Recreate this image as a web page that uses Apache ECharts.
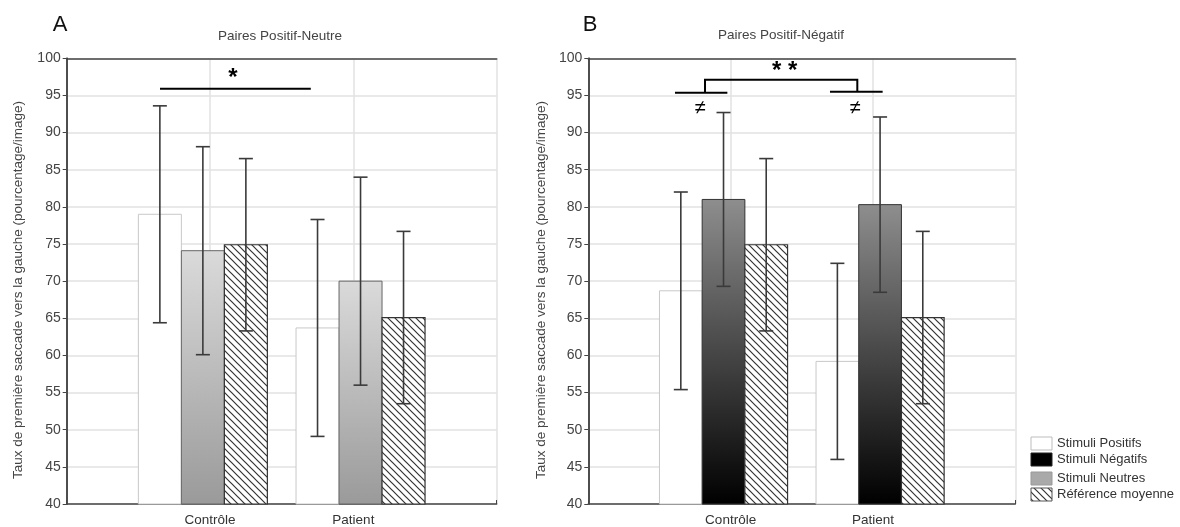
<!DOCTYPE html>
<html><head><meta charset="utf-8">
<script src="https://cdn.jsdelivr.net/npm/echarts@6/dist/echarts.min.js"></script>
<style>html,body{margin:0;padding:0;background:#fff}#c{width:1180px;height:527px}</style>
</head><body><div id="c"></div>
<script>
// ---------- data ----------
const categories = ['Contrôle', 'Patient'];
const yMin = 40, yMax = 100, yStep = 5;

// Panel A : Paires Positif-Neutre
const posA = [79.0, 63.7];      const posAErr = [14.6, 14.6];
const neuA = [74.1, 70.0];      const neuAErr = [14.0, 14.0];
const refA = [74.9, 65.1];      const refAErr = [11.6, 11.6];

// Panel B : Paires Positif-Négatif
const posB = [68.7, 59.2];      const posBErr = [13.3, 13.2];
const negB = [81.0, 80.3];      const negBErr = [11.7, 11.8];
const refB = [74.9, 65.1];      const refBErr = [11.6, 11.6];

// significance annotations (data coordinates)
const sigLinesA = [[[0.651, 95.9], [1.703, 95.9]]];
const sigTextsA = [[1.16, 97.3, '*']];
const sigLinesB = [
  [[0.609, 95.35], [0.977, 95.35]],
  [[1.698, 95.5], [2.068, 95.5]],
  [[0.82, 95.4], [0.82, 97.1], [1.89, 97.1], [1.89, 95.5]]
];
const sigTextsB = [[1.38, 98.2, '* *'], [0.784, 93.2, '≠'], [1.873, 93.2, '≠']];

const legendNames = ['Stimuli Positifs', 'Stimuli Négatifs', 'Stimuli Neutres', 'Référence moyenne'];
const yName = 'Taux de première saccade vers la gauche (pourcentage/image)';

// ---------- styles ----------
const FONT = '"Liberation Sans", Arial, sans-serif';
const BAR_W = 0.3;
const GROUP_START = [-0.5, -0.4]; // left edge of first bar relative to category, per category

function hatchCanvas() {
  const s = 7, cv = document.createElement('canvas');
  cv.width = s; cv.height = s;
  const g = cv.getContext('2d');
  g.fillStyle = '#fff'; g.fillRect(0, 0, s, s);
  g.strokeStyle = '#333'; g.lineWidth = 1.2;
  g.beginPath();
  g.moveTo(-1, -1); g.lineTo(s + 1, s + 1);
  g.moveTo(-1, s - 1); g.lineTo(1, s + 1);
  g.moveTo(s - 1, -1); g.lineTo(s + 1, 1);
  g.stroke();
  return cv;
}
const hatch = { image: hatchCanvas(), repeat: 'repeat' };
const grayGrad = () => new echarts.graphic.LinearGradient(0, 0, 0, 1, [{offset: 0, color: '#dadada'}, {offset: 1, color: '#9a9a9a'}]);
const blackGrad = () => new echarts.graphic.LinearGradient(0, 0, 0, 1, [{offset: 0, color: '#8e8e8e'}, {offset: 1, color: '#000'}]);

const styles = {
  pos: () => ({fill: '#fff', stroke: '#c8c8c8', lineWidth: 1}),
  neu: () => ({fill: grayGrad(), stroke: '#666', lineWidth: 1}),
  neg: () => ({fill: blackGrad(), stroke: '#333', lineWidth: 1}),
  ref: () => ({fill: hatch, stroke: '#333', lineWidth: 1.2})
};

function barSeries(panel, slot, means, styleFn) {
  return {
    type: 'custom', xAxisIndex: panel * 2, yAxisIndex: panel * 2, z: 2,
    data: means.map((m, i) => [i + 1, m]),
    renderItem: (params, api) => {
      const c = api.value(0), v = api.value(1);
      const x0 = c + GROUP_START[c - 1] + slot * BAR_W;
      const p0 = api.coord([x0, v]);
      const p1 = api.coord([x0 + BAR_W, yMin]);
      return {type: 'rect', shape: {x: p0[0], y: p0[1], width: p1[0] - p0[0], height: p1[1] - p0[1]}, style: styleFn()};
    }
  };
}
function errSeries(panel, slot, means, errs) {
  return {
    type: 'custom', xAxisIndex: panel * 2, yAxisIndex: panel * 2, z: 3,
    data: means.map((m, i) => [i + 1, m, errs[i]]),
    renderItem: (params, api) => {
      const c = api.value(0), v = api.value(1), e = api.value(2);
      const xc = c + GROUP_START[c - 1] + (slot + 0.5) * BAR_W;
      const hi = api.coord([xc, v + e]), lo = api.coord([xc, v - e]);
      const cap = 7, st = {stroke: '#3a3a3a', lineWidth: 1.6};
      return {type: 'group', children: [
        {type: 'line', shape: {x1: hi[0], y1: hi[1], x2: lo[0], y2: lo[1]}, style: st},
        {type: 'line', shape: {x1: hi[0] - cap, y1: hi[1], x2: hi[0] + cap, y2: hi[1]}, style: st},
        {type: 'line', shape: {x1: lo[0] - cap, y1: lo[1], x2: lo[0] + cap, y2: lo[1]}, style: st}
      ]};
    }
  };
}
function sigSeries(panel, lines, texts) {
  const items = lines.map(l => ({kind: 'l', d: l})).concat(texts.map(t => ({kind: 't', d: t})));
  return {
    type: 'custom', xAxisIndex: panel * 2, yAxisIndex: panel * 2, z: 4, clip: false,
    data: items.map(it => it.kind === 'l' ? it.d[0] : [it.d[0], it.d[1]]),
    renderItem: (params, api) => {
      const it = items[params.dataIndex];
      if (it.kind === 'l') {
        return {type: 'polyline', shape: {points: it.d.map(p => api.coord(p))}, style: {stroke: '#000', lineWidth: 2, fill: null}};
      }
      const p = api.coord([it.d[0], it.d[1]]);
      const isNe = it.d[2] === '≠';
      return {type: 'text', x: p[0], y: p[1], style: {
        text: it.d[2], fill: '#000', align: 'center', verticalAlign: 'middle',
        font: (isNe ? '20px ' : 'bold 24px ') + FONT
      }};
    }
  };
}

function axesFor(panel) {
  const xs = [{
    type: 'value', gridIndex: panel, min: 0, max: 3, interval: 1, position: 'bottom',
    axisLine: {show: true, lineStyle: {color: '#444', width: 1.5}},
    axisTick: {show: true, inside: true, length: 4, lineStyle: {color: '#444'}},
    axisLabel: {formatter: v => categories[v - 1] || '', color: '#333', fontSize: 13.5, fontFamily: FONT, margin: 9},
    splitLine: {show: true, lineStyle: {color: '#e2e2e2', width: 1.5}}
  }, {
    type: 'value', gridIndex: panel, min: 0, max: 3, interval: 1, position: 'top',
    axisLine: {show: true, lineStyle: {color: '#444', width: 1.5}},
    axisTick: {show: false}, axisLabel: {show: false}, splitLine: {show: false}
  }];
  const ys = [{
    type: 'value', gridIndex: panel, min: yMin, max: yMax, interval: yStep, position: 'left',
    axisLine: {show: true, lineStyle: {color: '#444', width: 1.5}},
    axisTick: {show: true, inside: false, length: 3, lineStyle: {color: '#666'}},
    axisLabel: {color: '#444', fontSize: 14, fontFamily: FONT, margin: 6},
    splitLine: {show: true, lineStyle: {color: '#e2e2e2', width: 1.5}}
  }, {
    type: 'value', gridIndex: panel, min: yMin, max: yMax, interval: yStep, position: 'right',
    axisLine: {show: true, lineStyle: {color: '#444', width: 1.5}},
    axisTick: {show: true, inside: true, length: 4, lineStyle: {color: '#444'}},
    axisLabel: {show: false}, splitLine: {show: false}
  }];
  return {xs, ys};
}
const aA = axesFor(0), aB = axesFor(1);

// legend graphics
const legendStyles = [
  {fill: '#fff', stroke: '#bdbdbd'},
  {fill: '#000', stroke: '#222'},
  {fill: '#a9a9a9', stroke: '#999'},
  {fill: hatch, stroke: '#555'}
];
const legendTops = [437, 453, 472, 488];
const legendGraphics = [];
legendNames.forEach((n, i) => {
  legendGraphics.push({type: 'rect', shape: {x: 1031, y: legendTops[i], width: 21, height: 13}, style: Object.assign({lineWidth: 1}, legendStyles[i])});
  legendGraphics.push({type: 'text', x: 1057, y: legendTops[i] + 6.5, style: {text: n, fill: '#333', font: '13px ' + FONT, verticalAlign: 'middle'}});
});

const chart = echarts.init(document.getElementById('c'), null, {renderer: 'canvas'});
chart.setOption({
  animation: false,
  backgroundColor: '#fff',
  grid: [
    {left: 66.7, top: 58.3, width: 430, height: 446.2},
    {left: 588.3, top: 58.3, width: 427, height: 446.2}
  ],
  xAxis: aA.xs.concat(aB.xs.map(a => Object.assign({}, a, {gridIndex: 1}))),
  yAxis: aA.ys.concat(aB.ys.map(a => Object.assign({}, a, {gridIndex: 1}))),
  graphic: [
    {type: 'text', x: 60, y: 25, style: {text: 'A', fill: '#111', font: '22px ' + FONT, align: 'center', verticalAlign: 'middle'}},
    {type: 'text', x: 590, y: 25, style: {text: 'B', fill: '#111', font: '22px ' + FONT, align: 'center', verticalAlign: 'middle'}},
    {type: 'text', x: 280, y: 36, style: {text: 'Paires Positif-Neutre', fill: '#444', font: '13.5px ' + FONT, align: 'center', verticalAlign: 'middle'}},
    {type: 'text', x: 781, y: 35, style: {text: 'Paires Positif-Négatif', fill: '#444', font: '13.5px ' + FONT, align: 'center', verticalAlign: 'middle'}},
    {type: 'text', x: 18, y: 290, rotation: Math.PI / 2, style: {text: yName, fill: '#444', font: '13.5px ' + FONT, align: 'center', verticalAlign: 'middle'}},
    {type: 'text', x: 541, y: 290, rotation: Math.PI / 2, style: {text: yName, fill: '#444', font: '13.5px ' + FONT, align: 'center', verticalAlign: 'middle'}}
  ].concat(legendGraphics),
  series: [
    barSeries(0, 0, posA, styles.pos), barSeries(0, 1, neuA, styles.neu), barSeries(0, 2, refA, styles.ref),
    errSeries(0, 0, posA, posAErr), errSeries(0, 1, neuA, neuAErr), errSeries(0, 2, refA, refAErr),
    sigSeries(0, sigLinesA, sigTextsA),
    barSeries(1, 0, posB, styles.pos), barSeries(1, 1, negB, styles.neg), barSeries(1, 2, refB, styles.ref),
    errSeries(1, 0, posB, posBErr), errSeries(1, 1, negB, negBErr), errSeries(1, 2, refB, refBErr),
    sigSeries(1, sigLinesB, sigTextsB)
  ]
});
</script></body></html>
